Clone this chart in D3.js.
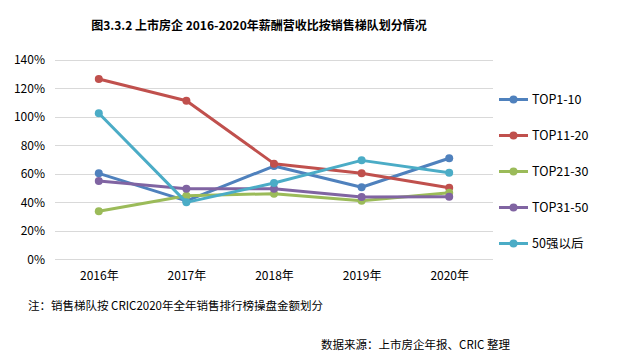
<!DOCTYPE html>
<html><head><meta charset="utf-8">
<script src="https://cdn.jsdelivr.net/npm/d3@7"></script>
<style>body{margin:0;background:#fff}svg{display:block}</style>
</head><body><svg id="c" width="625" height="362"></svg>
<script>
const categories = ["2016年","2017年","2018年","2019年","2020年"];
const seriesNames = ["TOP1-10","TOP11-20","TOP21-30","TOP31-50","50强以后"];
const top1_10  = [60.4, 41.0, 65.5, 50.6, 71.0];
const top11_20 = [126.6, 111.4, 67.2, 60.4, 50.3];
const top21_30 = [33.7, 44.7, 46.1, 41.2, 46.8];
const top31_50 = [55.0, 49.6, 49.6, 43.8, 44.0];
const top50plus = [102.6, 40.0, 53.6, 69.5, 60.8];
const yTicks = [0,20,40,60,80,100,120,140];
const colors = ["#4F81BD","#C0504D","#9BBB59","#8064A2","#4BACC6"];
const title = "图3.3.2 上市房企 2016-2020年薪酬营收比按销售梯队划分情况";
const note = "注：销售梯队按 CRIC2020年全年销售排行榜操盘金额划分";
const source = "数据来源：上市房企年报、CRIC 整理";

const series = [top1_10, top11_20, top21_30, top31_50, top50plus];
const svg = d3.select("#c");
const font = "'Noto Sans CJK SC', 'Microsoft YaHei', sans-serif";

const x = d3.scalePoint().domain(categories).range([55, 493]).padding(0.5);
const y = d3.scaleLinear().domain([0, 140]).range([259.3, 60]);

svg.append("text").attr("x", 259).attr("y", 30).attr("text-anchor","middle")
  .attr("font-family", font).attr("font-weight","bold").attr("font-size", 12)
  .attr("fill","#000").text(title);

// grid
svg.append("g").selectAll("line").data(yTicks).join("line")
  .attr("x1", 55).attr("x2", 493)
  .attr("y1", d => Math.round(y(d))+0.5).attr("y2", d => Math.round(y(d))+0.5)
  .attr("stroke", "#D9D9D9").attr("stroke-width", 1);

// y axis labels
const yAxis = d3.axisLeft(y).tickValues(yTicks).tickFormat(d => d + "%").tickSize(0).tickPadding(0);
const gy = svg.append("g").attr("transform","translate(45,0)").call(yAxis);
gy.select(".domain").remove();
gy.selectAll("text").attr("font-family", font).attr("font-size", 12).attr("fill","#000");

// x axis labels
const xAxis = d3.axisBottom(x).tickSize(0).tickPadding(0);
const gx = svg.append("g").attr("transform","translate(0,271)").call(xAxis);
gx.select(".domain").remove();
gx.selectAll("text").attr("font-family", font).attr("font-size", 12).attr("fill","#000");

const line = d3.line().x((d,i) => x(categories[i])).y(d => y(d));
series.forEach((s, k) => {
  const g = svg.append("g");
  g.append("path").datum(s).attr("d", line).attr("fill","none")
    .attr("stroke", colors[k]).attr("stroke-width", 3).attr("stroke-linejoin","round");
  g.selectAll("circle").data(s).join("circle")
    .attr("cx", (d,i) => x(categories[i])).attr("cy", d => y(d)).attr("r", 4)
    .attr("fill", colors[k]);
});

// legend
const lg = svg.append("g");
seriesNames.forEach((n, k) => {
  const ly = 99.5 + k * 36;
  lg.append("line").attr("x1", 499).attr("x2", 528).attr("y1", ly).attr("y2", ly)
    .attr("stroke", colors[k]).attr("stroke-width", 3);
  lg.append("circle").attr("cx", 513.5).attr("cy", ly).attr("r", 4).attr("fill", colors[k]);
  lg.append("text").attr("x", 532).attr("y", ly).attr("dy","0.35em")
    .attr("font-family", font).attr("font-size", 12.5).attr("fill","#000").text(n);
});

svg.append("text").attr("x", 28).attr("y", 310).attr("font-family", font)
  .attr("font-size", 11.5).attr("fill","#000").text(note);
svg.append("text").attr("x", 510).attr("y", 349).attr("text-anchor","end").attr("font-family", font)
  .attr("font-size", 11.5).attr("fill","#000").text(source);
</script></body></html>
